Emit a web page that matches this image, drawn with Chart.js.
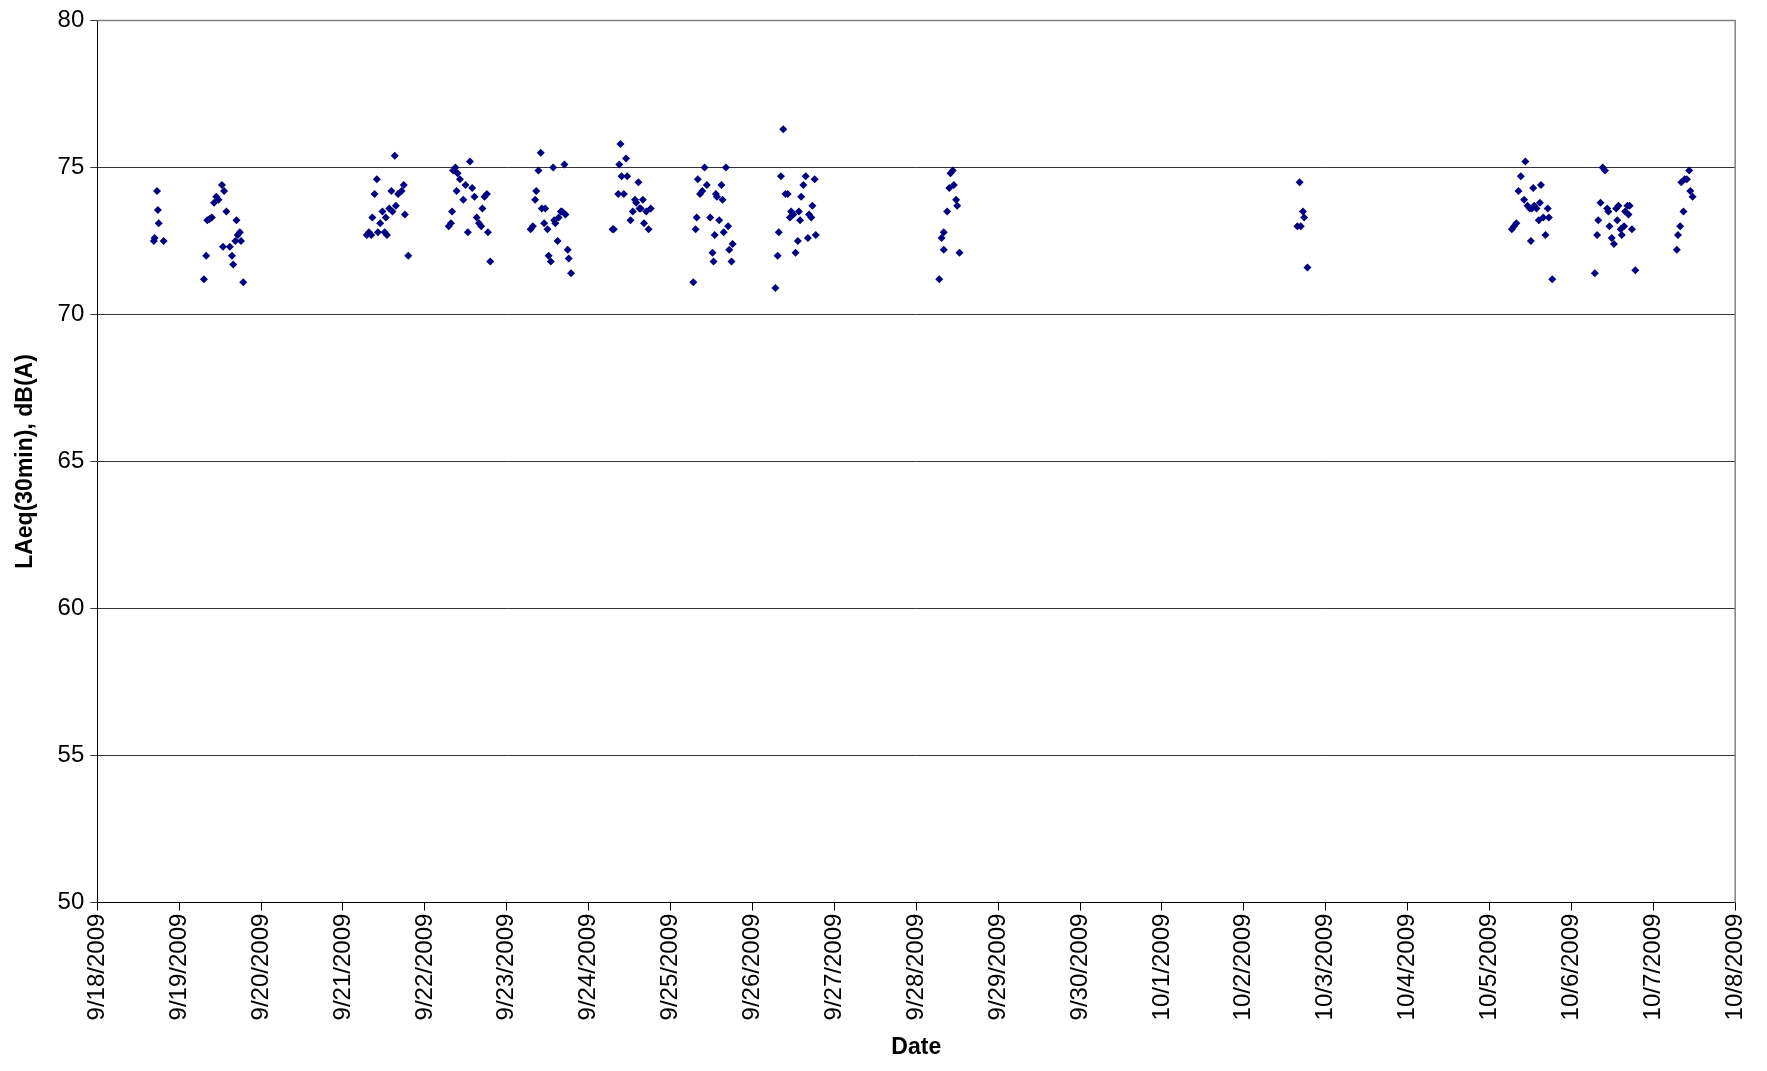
<!DOCTYPE html>
<html>
<head>
<meta charset="utf-8">
<script src="https://cdn.jsdelivr.net/npm/chart.js@4.4.0/dist/chart.umd.min.js"></script>
<style>
  body { margin: 0; background: #fff; }
  canvas { display: block; }
</style>
</head>
<body>
<canvas id="noise" width="1767" height="1071"></canvas>
<script>
// x = days after 9/18/2009, y = LAeq(30min) dB(A)
const tickLabels = ["9/18/2009", "9/19/2009", "9/20/2009", "9/21/2009", "9/22/2009", "9/23/2009",
  "9/24/2009", "9/25/2009", "9/26/2009", "9/27/2009", "9/28/2009", "9/29/2009", "9/30/2009",
  "10/1/2009", "10/2/2009", "10/3/2009", "10/4/2009", "10/5/2009", "10/6/2009", "10/7/2009", "10/8/2009"];

const dayOffsets = [
  0.73, 0.74, 0.75, 0.70, 0.69, 0.81,
  1.302, 1.330, 1.343, 1.371, 1.398, 1.426, 1.453, 1.480, 1.522, 1.549, 1.576, 1.535, 1.618, 1.645, 1.659, 1.686, 1.714, 1.700, 1.741, 1.755, 1.782,
  3.290, 3.317, 3.345, 3.358, 3.386, 3.413, 3.427, 3.454, 3.482, 3.509, 3.523, 3.564, 3.591, 3.605, 3.632, 3.673, 3.715, 3.742, 3.756, 3.797, 3.537, 3.646,
  4.291, 4.318, 4.332, 4.345, 4.373, 4.400, 4.428, 4.387, 4.469, 4.496, 4.551, 4.578, 4.606, 4.524, 4.633, 4.661, 4.702, 4.729, 4.757, 4.770, 4.798, 4.688,
  5.291, 5.319, 5.346, 5.360, 5.387, 5.415, 5.428, 5.469, 5.456, 5.497, 5.511, 5.538, 5.566, 5.593, 5.620, 5.634, 5.661, 5.703, 5.716, 5.744, 5.757, 5.785, 5.579, 5.675,
  6.292, 6.306, 6.361, 6.374, 6.388, 6.402, 6.429, 6.470, 6.456, 6.511, 6.539, 6.566, 6.607, 6.580, 6.635, 6.662, 6.676, 6.703, 6.731, 6.758, 6.621,
  7.278, 7.306, 7.319, 7.333, 7.360, 7.388, 7.415, 7.443, 7.484, 7.512, 7.525, 7.539, 7.553, 7.566, 7.594, 7.621, 7.635, 7.649, 7.676, 7.703, 7.717, 7.744, 7.758,
  8.280, 8.307, 8.321, 8.348, 8.376, 8.403, 8.430, 8.458, 8.472, 8.499, 8.526, 8.554, 8.581, 8.567, 8.595, 8.622, 8.650, 8.677, 8.691, 8.718, 8.759, 8.773, 8.732,
  10.281, 10.309, 10.336, 10.336, 10.377, 10.404, 10.418, 10.446, 10.459, 10.487, 10.500, 10.528,
  14.681, 14.654, 14.695, 14.722, 14.736, 14.777,
  17.272, 17.300, 17.327, 17.382, 17.354, 17.437, 17.423, 17.464, 17.492, 17.533, 17.505, 17.546, 17.574, 17.601, 17.628, 17.615, 17.656, 17.684, 17.711, 17.725, 17.766, 17.519,
  18.286, 18.314, 18.328, 18.355, 18.382, 18.410, 18.437, 18.451, 18.465, 18.492, 18.519, 18.547, 18.574, 18.602, 18.615, 18.643, 18.656, 18.684, 18.697, 18.711, 18.739, 18.780, 18.560,
  19.287, 19.301, 19.328, 19.342, 19.369, 19.383, 19.410, 19.438, 19.452, 19.479
];

const laeqValues = [
  74.2, 73.55, 73.1, 72.6, 72.5, 72.5,
  71.2, 72.0, 73.2, 73.25, 73.3, 73.8, 74.0, 73.9, 74.4, 74.2, 73.5, 72.3, 72.3, 72.0, 71.7, 72.5, 72.7, 73.2, 72.8, 72.5, 71.1,
  72.7, 72.8, 72.7, 73.3, 74.1, 74.6, 72.8, 73.1, 73.5, 72.8, 73.3, 73.6, 74.2, 73.5, 75.4, 74.1, 74.2, 74.4, 73.4, 72.0, 72.7, 73.7,
  73.0, 73.1, 73.5, 74.9, 75.0, 74.8, 74.6, 74.2, 73.9, 74.4, 75.2, 74.3, 74.0, 72.8, 73.3, 73.1, 73.6, 74.0, 74.1, 72.8, 71.8, 73.0,
  72.9, 73.0, 73.9, 74.2, 74.9, 75.5, 73.6, 73.6, 73.1, 72.9, 72.0, 71.8, 75.0, 73.1, 72.5, 73.3, 73.5, 75.1, 73.4, 72.2, 71.9, 71.4, 73.2, 73.5,
  72.9, 72.9, 74.1, 75.1, 75.8, 74.7, 74.1, 74.7, 75.3, 73.2, 73.5, 73.9, 74.5, 73.8, 73.6, 73.9, 73.1, 73.5, 72.9, 73.6, 73.6,
  71.1, 72.9, 73.3, 74.6, 74.1, 74.2, 75.0, 74.4, 73.3, 72.1, 71.8, 72.7, 74.1, 74.0, 73.2, 74.4, 73.9, 72.8, 75.0, 73.0, 72.2, 71.8, 72.4,
  70.9, 72.0, 72.8, 74.7, 76.3, 74.1, 74.1, 73.3, 73.5, 73.4, 72.1, 72.5, 73.2, 73.5, 74.0, 74.4, 74.7, 72.6, 73.4, 73.3, 74.6, 72.7, 73.7,
  71.2, 72.6, 72.8, 72.2, 73.5, 74.3, 74.8, 74.9, 74.4, 73.9, 73.7, 72.1,
  74.5, 73.0, 73.0, 73.5, 73.3, 71.6,
  72.9, 73.0, 73.1, 74.7, 74.2, 75.2, 73.9, 73.7, 73.6, 74.3, 72.5, 73.7, 73.6, 73.2, 74.4, 73.8, 73.3, 72.7, 73.6, 73.3, 71.2, 73.6,
  71.4, 72.7, 73.2, 73.8, 75.0, 74.9, 73.6, 73.5, 73.0, 72.6, 72.4, 73.6, 73.7, 72.9, 72.7, 73.0, 73.5, 73.7, 73.4, 73.7, 72.9, 71.5, 73.2,
  72.2, 72.7, 73.0, 74.5, 73.5, 74.6, 74.6, 74.9, 74.2, 74.0
];

const points = dayOffsets.map((d, i) => ({ x: d, y: laeqValues[i] }));

const font = { family: "'Liberation Sans', Arial, sans-serif", size: 24 };

new Chart(document.getElementById("noise"), {
  type: "scatter",
  data: {
    datasets: [{
      data: points,
      pointStyle: "rectRot",
      pointRadius: 4,
      backgroundColor: "#000080",
      borderColor: "#000080",
      borderWidth: 0,
    }],
  },
  options: {
    responsive: false,
    animation: false,
    layout: { padding: { top: 2, right: 12, left: 8, bottom: 6 } },
    plugins: { legend: { display: false }, tooltip: { enabled: false } },
    scales: {
      x: {
        type: "linear",
        min: 0,
        max: 20,
        border: { color: "#000", width: 1 },
        grid: { drawOnChartArea: false, color: "#000", tickLength: 8 },
        ticks: {
          stepSize: 1,
          autoSkip: false,
          minRotation: 90,
          maxRotation: 90,
          color: "#000",
          font: font,
          callback: (v) => tickLabels[v],
        },
        title: { display: true, text: "Date", color: "#000", font: { ...font, weight: "bold", size: 23 }, padding: { top: 10 } },
      },
      y: {
        min: 50,
        max: 80,
        border: { color: "#000", width: 1 },
        grid: { color: "#000", lineWidth: 0.8, tickLength: 7 },
        ticks: { stepSize: 5, color: "#000", font: font, padding: 6 },
        title: { display: true, text: "LAeq(30min), dB(A)", color: "#000", font: { ...font, weight: "bold", size: 23 }, padding: { bottom: 12 } },
      },
    },
  },
  plugins: [{
    id: "frame",
    afterDraw(chart) {
      const { ctx, chartArea: a } = chart;
      ctx.save();
      ctx.strokeStyle = "#808080";
      ctx.lineWidth = 1.5;
      ctx.beginPath();
      ctx.moveTo(a.left, a.top);
      ctx.lineTo(a.right, a.top);
      ctx.lineTo(a.right, a.bottom);
      ctx.stroke();
      ctx.restore();
    },
  }],
});
</script>
</body>
</html>
